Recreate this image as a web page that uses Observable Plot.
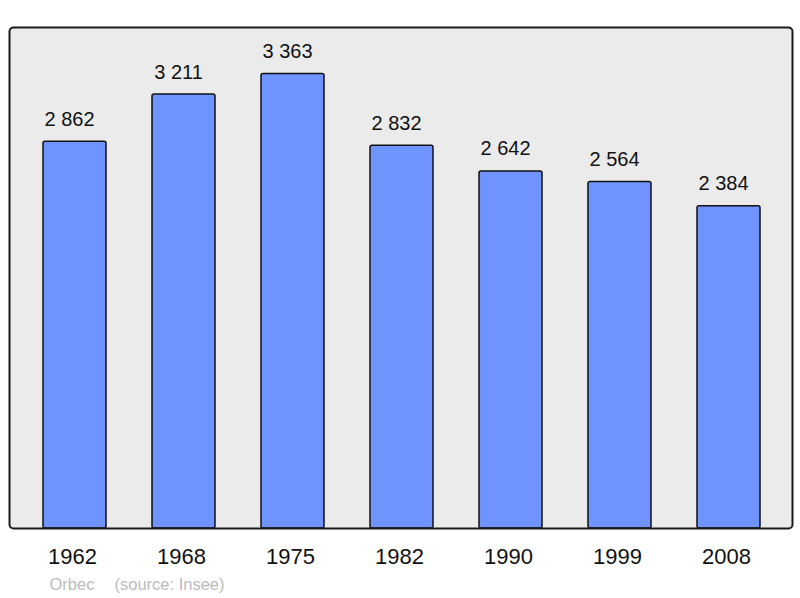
<!DOCTYPE html>
<html>
<head>
<meta charset="utf-8">
<script src="https://cdn.jsdelivr.net/npm/d3@7"></script>
<script src="https://cdn.jsdelivr.net/npm/@observablehq/plot@0.6"></script>
<style>
  html, body { margin: 0; padding: 0; background: #ffffff; }
  #chart svg { display: block; }
</style>
</head>
<body>
<div id="chart"></div>
<script>
const years = ["1962", "1968", "1975", "1982", "1990", "1999", "2008"];
const population = [2862, 3211, 3363, 2832, 2642, 2564, 2384];
const commune = "Orbec";
const source = "(source: Insee)";

const data = years.map((year, i) => ({year, pop: population[i]}));
const fmt = d3.formatLocale({thousands: " ", grouping: [3], decimal: ","}).format(",d");
const font = "'Liberation Sans', Arial, sans-serif";

const chart = Plot.plot({
  width: 800,
  height: 598,
  marginTop: 27,
  marginBottom: 70,
  marginLeft: 9,
  marginRight: 8,
  style: {fontFamily: font, background: "#ffffff", color: "#111"},
  x: {domain: years, range: [42, 761.7], paddingInner: 0.4205, paddingOuter: 0, label: null},
  y: {domain: [0, 3707], axis: null},
  marks: [
    Plot.frame({fill: "#ebebeb", stroke: "none", rx: 4}),
    Plot.barY(data, {x: "year", y: "pop", fill: "#7094ff", stroke: "#111", strokeWidth: 1.5, rx: 2}),
    Plot.frame({stroke: "#1a1a1a", strokeWidth: 2, rx: 4}),
    Plot.text(data, {x: "year", y: "pop", text: d => fmt(d.pop), dx: -5.5, dy: -16, lineAnchor: "bottom", fontSize: 20, fill: "#111"}),
    Plot.axisX({tickSize: 0, tickPadding: 20, dx: -2.5, fontSize: 22, label: null, fill: "#111"}),
    Plot.text([commune], {frameAnchor: "bottom-left", dx: 40, dy: 61, lineAnchor: "bottom", textAnchor: "start", fontSize: 16.5, fill: "#bbbbbb"}),
    Plot.text([source], {frameAnchor: "bottom-left", dx: 105, dy: 61, lineAnchor: "bottom", textAnchor: "start", fontSize: 16.5, fill: "#bbbbbb", style: "letter-spacing:0.55px"})
  ]
});
document.getElementById("chart").appendChild(chart);
</script>
</body>
</html>
